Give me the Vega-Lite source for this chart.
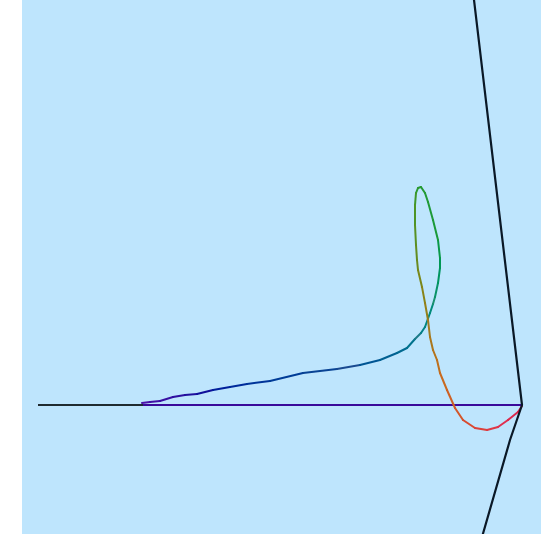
{
  "$schema": "https://vega.github.io/schema/vega-lite/v6.json",
  "width": 519,
  "height": 534,
  "autosize": {"type": "none"},
  "padding": {"left": 22, "top": 0, "right": 0, "bottom": 0},
  "background": "#ffffff",
  "config": {"view": {"fill": "#bee5fd", "stroke": null}},
  "datasets": {
    "boundary": [
      {"i": 0, "x": -50, "y": 422},
      {"i": 1, "x": 0, "y": 0},
      {"i": 2, "x": -12, "y": -35},
      {"i": 3, "x": -42, "y": -139}
    ],
    "ground": [
      {"part": "approach", "x": -484, "x2": -379, "y": 0},
      {"part": "baseline", "x": -379, "x2": 0, "y": 0}
    ],
    "path": [
      {"t": 0, "x": -380, "y": 2},
      {"t": 1, "x": -372, "y": 3},
      {"t": 2, "x": -362, "y": 4},
      {"t": 3, "x": -349, "y": 8},
      {"t": 4, "x": -337, "y": 10},
      {"t": 5, "x": -325, "y": 11},
      {"t": 6, "x": -309, "y": 15},
      {"t": 7, "x": -292, "y": 18},
      {"t": 8, "x": -275, "y": 21},
      {"t": 9, "x": -252, "y": 24},
      {"t": 10, "x": -219, "y": 32},
      {"t": 11, "x": -185, "y": 36},
      {"t": 12, "x": -162, "y": 40},
      {"t": 13, "x": -142, "y": 45},
      {"t": 14, "x": -125, "y": 52},
      {"t": 15, "x": -115, "y": 57},
      {"t": 16, "x": -107, "y": 66},
      {"t": 17, "x": -101, "y": 72},
      {"t": 18, "x": -97, "y": 78},
      {"t": 19, "x": -92, "y": 92},
      {"t": 20, "x": -89, "y": 101},
      {"t": 21, "x": -87, "y": 108},
      {"t": 22, "x": -84, "y": 122},
      {"t": 23, "x": -82, "y": 137},
      {"t": 24, "x": -82, "y": 147},
      {"t": 25, "x": -84, "y": 165},
      {"t": 26, "x": -89, "y": 185},
      {"t": 27, "x": -94, "y": 203},
      {"t": 28, "x": -97, "y": 212},
      {"t": 29, "x": -101, "y": 218},
      {"t": 30, "x": -104, "y": 217},
      {"t": 31, "x": -106, "y": 212},
      {"t": 32, "x": -107, "y": 200},
      {"t": 33, "x": -107, "y": 180},
      {"t": 34, "x": -106, "y": 160},
      {"t": 35, "x": -105, "y": 145},
      {"t": 36, "x": -104, "y": 135},
      {"t": 37, "x": -100, "y": 118},
      {"t": 38, "x": -97, "y": 102},
      {"t": 39, "x": -94, "y": 85},
      {"t": 40, "x": -92, "y": 68},
      {"t": 41, "x": -89, "y": 55},
      {"t": 42, "x": -85, "y": 45},
      {"t": 43, "x": -82, "y": 32},
      {"t": 44, "x": -75, "y": 15},
      {"t": 45, "x": -67, "y": -3},
      {"t": 46, "x": -59, "y": -15},
      {"t": 47, "x": -47, "y": -23},
      {"t": 48, "x": -35, "y": -25},
      {"t": 49, "x": -24, "y": -22},
      {"t": 50, "x": -14, "y": -15},
      {"t": 51, "x": -4, "y": -7},
      {"t": 52, "x": 0, "y": -1}
    ]
  },
  "layer": [
    {
      "data": {"name": "ground"},
      "mark": {"type": "rule", "strokeWidth": 2, "clip": true},
      "encoding": {
        "x": {"field": "x", "type": "quantitative", "scale": {"domain": [-500, 19], "nice": false, "zero": false}, "axis": null},
        "x2": {"field": "x2"},
        "y": {"field": "y", "type": "quantitative", "scale": {"domain": [-129, 405], "nice": false, "zero": false}, "axis": null},
        "color": {"field": "part", "type": "nominal", "scale": {"domain": ["approach", "baseline"], "range": ["#1f2b30", "#3a0a9a"]}, "legend": null}
      }
    },
    {
      "data": {"name": "path"},
      "transform": [
        {"window": [{"op": "lead", "field": "x", "as": "xn"}, {"op": "lead", "field": "y", "as": "yn"}], "sort": [{"field": "t"}]},
        {"filter": "datum.xn != null"}
      ],
      "mark": {"type": "rule", "strokeWidth": 2, "strokeCap": "round", "clip": true},
      "encoding": {
        "x": {"field": "x", "type": "quantitative"},
        "y": {"field": "y", "type": "quantitative"},
        "x2": {"field": "xn"},
        "y2": {"field": "yn"},
        "stroke": {
          "field": "t", "type": "quantitative", "legend": null,
          "scale": {
            "domain": [0, 5, 11, 16, 20, 25, 30, 35, 39, 43, 46, 49, 52],
            "range": ["#4a10a8", "#10109a", "#1a4a90", "#1a7a88", "#1a9070", "#1a9a3a", "#2a9a30", "#6a8a20", "#a07a20", "#c86a20", "#d84a30", "#e03050", "#d01040"]
          }
        }
      }
    },
    {
      "data": {"name": "boundary"},
      "mark": {"type": "line", "color": "#0a1826", "strokeWidth": 2.2, "clip": true},
      "encoding": {
        "x": {"field": "x", "type": "quantitative"},
        "y": {"field": "y", "type": "quantitative"},
        "order": {"field": "i", "type": "quantitative"}
      }
    }
  ],
  "resolve": {"scale": {"color": "independent"}}
}
